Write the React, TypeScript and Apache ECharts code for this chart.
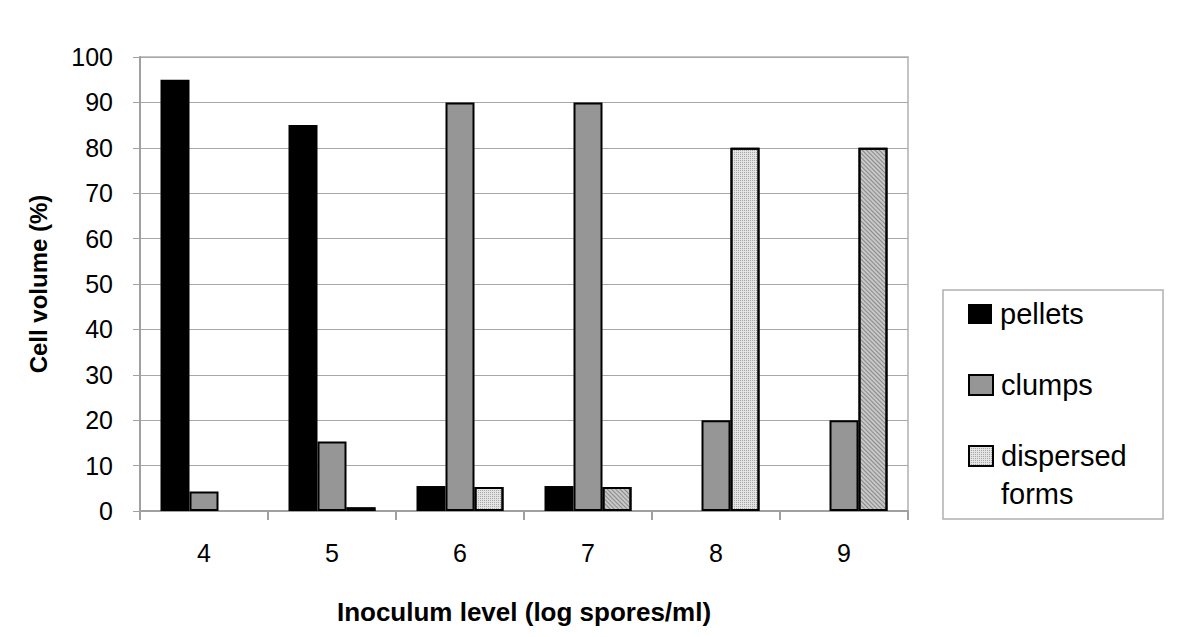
import React, { useEffect, useRef } from "react";
import * as echarts from "echarts";

const categories = ["4", "5", "6", "7", "8", "9"];
const pellets = [95, 85, 5.5, 5.5, 0, 0];
const clumps = [4.3, 15.3, 90, 90, 20, 20];
const dispersed = [0, 0.8, 5.3, 5.3, 80, 80];
const dispersedPattern = ["dots", "dots", "dots", "hatch", "dots", "hatch"];
const yTicks = { min: 0, max: 100, interval: 10 };

const dotDecal = {
  symbol: "rect",
  symbolSize: 1,
  dashArrayX: [1, 1],
  dashArrayY: [1, 1],
  color: "rgba(90,90,90,0.45)",
};
const hatchDecal = {
  symbol: "rect",
  symbolSize: 1,
  dashArrayX: [1, 0],
  dashArrayY: [1, 2],
  rotation: Math.PI / 4,
  color: "rgba(60,60,60,0.45)",
};

export default function App() {
  const ref = useRef<HTMLDivElement>(null);
  useEffect(() => {
    if (!ref.current) return;
    const chart = echarts.init(ref.current, undefined, { renderer: "svg" });
    const font = "Arial, 'Liberation Sans', sans-serif";
    const legendBase = {
      orient: "vertical" as const,
      left: 963,
      icon: "rect",
      itemWidth: 24,
      itemHeight: 20,
      itemGap: 0,
      selectedMode: false,
      textStyle: { fontFamily: font, fontSize: 29, color: "#000", lineHeight: 38, padding: [0, 0, 0, 3] },
    };
    chart.setOption({
      animation: false,
      backgroundColor: "#fff",
      grid: {
        left: 140,
        right: 292,
        top: 57,
        bottom: 126,
        show: true,
        borderColor: "#c4c4c4",
        borderWidth: 2,
      },
      legend: [
        { ...legendBase, top: 290, data: ["pellets"] },
        { ...legendBase, top: 361, data: ["clumps"] },
        {
          ...legendBase,
          top: 394,
          data: ["dispersed forms"],
          formatter: () => "\ndispersed\nforms",
        },
      ],
      xAxis: {
        type: "category",
        data: categories,
        axisLine: { lineStyle: { color: "#a0a0a0", width: 2 } },
        axisTick: { show: true, length: 9, lineStyle: { color: "#a0a0a0", width: 2 } },
        axisLabel: { fontFamily: font, fontSize: 25, color: "#000", margin: 29 },
        name: "Inoculum level (log spores/ml)",
        nameLocation: "middle",
        nameGap: 88,
        nameTextStyle: { fontFamily: font, fontSize: 26, fontWeight: "bold", color: "#000" },
      },
      yAxis: {
        type: "value",
        min: yTicks.min,
        max: yTicks.max,
        interval: yTicks.interval,
        axisLine: { show: true, lineStyle: { color: "#a0a0a0", width: 2 } },
        axisTick: { show: true, length: 7, lineStyle: { color: "#a0a0a0", width: 1 } },
        splitLine: { lineStyle: { color: "#a8a8a8", width: 1 } },
        axisLabel: { fontFamily: font, fontSize: 25, color: "#000", margin: 27 },
        name: "Cell volume (%)",
        nameLocation: "middle",
        nameGap: 90,
        nameTextStyle: { fontFamily: font, fontSize: 24, fontWeight: "bold", color: "#000" },
      },
      series: [
        {
          name: "pellets",
          type: "bar",
          data: pellets,
          barWidth: 29,
          barGap: "0%",
          itemStyle: { color: "#000", borderWidth: 0 },
        },
        {
          name: "clumps",
          type: "bar",
          data: clumps,
          barWidth: 29,
          barGap: "0%",
          itemStyle: { color: "#969696", borderColor: "#000", borderWidth: 2 },
        },
        {
          name: "dispersed forms",
          type: "bar",
          data: dispersed.map((v, i) => ({
            value: v,
            itemStyle:
              v === 0
                ? { borderWidth: 0, opacity: 0 }
                : dispersedPattern[i] === "dots"
                ? { color: "#e4e4e4", decal: dotDecal }
                : { color: "#c8c8c8", decal: hatchDecal },
          })),
          barWidth: 29,
          barGap: "0%",
          itemStyle: { color: "#e4e4e4", borderColor: "#000", borderWidth: 2, decal: dotDecal },
        },
      ],
      graphic: [
        {
          type: "rect",
          shape: { x: 943, y: 290, width: 220, height: 229 },
          style: { fill: "none", stroke: "#b0b0b0", lineWidth: 1.5 },
          z: -1,
        },
      ],
    });
    return () => chart.dispose();
  }, []);
  return <div ref={ref} style={{ width: 1200, height: 637, position: "absolute", left: 0, top: 0 }} />;
}
